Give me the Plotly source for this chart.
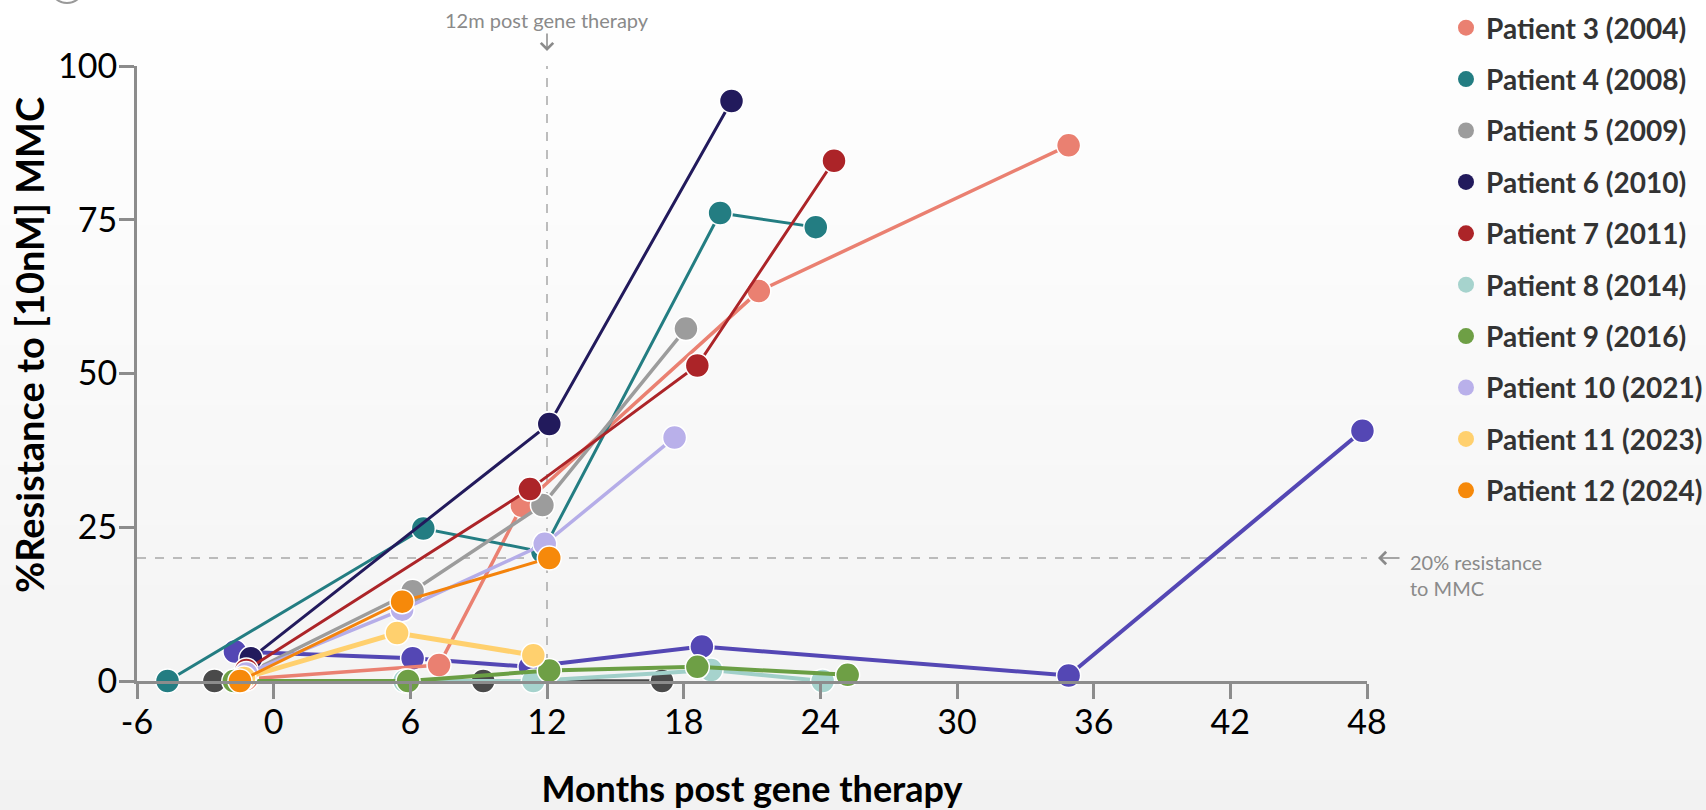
import plotly.graph_objects as go

# ---------------- data ----------------
names = ["Patient 1", "Patient 2",
         "Patient 3 (2004)", "Patient 4 (2008)", "Patient 5 (2009)", "Patient 6 (2010)",
         "Patient 7 (2011)", "Patient 8 (2014)", "Patient 9 (2016)", "Patient 10 (2021)",
         "Patient 11 (2023)", "Patient 12 (2024)"]
in_legend = [False, False, True, True, True, True, True, True, True, True, True, True]

months_p1 = [-1.7, 6.1, 11.25, 18.8, 34.9, 47.8]
res_p1 = [4.8, 3.7, 2.3, 5.6, 0.9, 40.7]
months_p2 = [-2.6, 9.2, 17.05]
res_p2 = [0, 0, 0]
months_p3 = [-1.2, 7.26, 10.9, 21.3, 34.9]
res_p3 = [0.3, 2.6, 28.5, 63.4, 87.1]
months_p4 = [-4.66, 6.57, 11.8, 19.6, 23.8]
res_p4 = [0, 24.8, 21.0, 76.1, 73.8]
months_p5 = [-1.3, 6.1, 11.8, 18.1]
res_p5 = [1.0, 14.6, 28.6, 57.3]
months_p6 = [-1.0, 12.1, 20.1]
res_p6 = [3.7, 41.8, 94.3]
months_p7 = [-1.2, 11.25, 18.6, 24.6]
res_p7 = [1.8, 31.2, 51.3, 84.6]
months_p8 = [-1.5, 5.75, 11.4, 19.2, 24.1]
res_p8 = [0, 0, 0, 1.8, 0]
months_p9 = [-1.75, 5.9, 12.1, 18.6, 25.2]
res_p9 = [0, 0, 1.7, 2.3, 1.0]
months_p10 = [-1.2, 5.64, 11.9, 17.6]
res_p10 = [1.2, 11.6, 22.3, 39.6]
months_p11 = [-1.3, 5.42, 11.4]
res_p11 = [0.5, 7.8, 4.2]
months_p12 = [-1.48, 5.64, 12.1]
res_p12 = [0, 12.9, 20.0]

all_months = [months_p1, months_p2, months_p3, months_p4, months_p5, months_p6,
              months_p7, months_p8, months_p9, months_p10, months_p11, months_p12]
all_res = [res_p1, res_p2, res_p3, res_p4, res_p5, res_p6,
           res_p7, res_p8, res_p9, res_p10, res_p11, res_p12]

marker_colors = ["#5447B4", "#4A4A4A", "#EA8071", "#237D82", "#9C9C9C", "#221A5C",
                 "#AC2428", "#A6D3CD", "#6E9F45", "#B9B0EA", "#FFD06E", "#F6890A"]
line_colors = ["#5447B4", "#4A4A4A", "#EA8071", "#237D82", "#9C9C9C", "#221A5C",
               "#AC2428", "#A0CFC9", "#6A9E44", "#B5ADE8", "#FFD06E", "#F4830C"]
line_widths = [4, 3.5, 3.5, 3, 3.5, 3, 3, 4, 4, 3.5, 5, 3]

x_ticks = [-6, 0, 6, 12, 18, 24, 30, 36, 42, 48]
y_ticks = [0, 25, 50, 75, 100]

# ---------------- geometry helpers (pixels -> paper) ----------------
W, H = 1706, 810
ML, MR, MT, MB = 137, 339, 66, 129
PW, PH = W - ML - MR, H - MT - MB


def px(xpix):
    return (xpix - ML) / PW


def py(ypix):
    return (H - MB - ypix) / PH


fig = go.Figure()

# data traces (lines + markers)
for nm, xs, ys, mc, lc, lw in zip(names, all_months, all_res,
                                  marker_colors, line_colors, line_widths):
    fig.add_trace(go.Scatter(
        x=xs, y=ys, name=nm, mode="lines+markers", showlegend=False,
        legendgroup=nm, cliponaxis=False,
        line=dict(color=lc, width=lw),
        marker=dict(color=mc, size=24, line=dict(color="white", width=1.5)),
    ))

# legend entries (marker-only symbols, as in the reference legend)
for nm, show, mc in zip(names, in_legend, marker_colors):
    if show:
        fig.add_trace(go.Scatter(
            x=[None], y=[None], name=nm, mode="markers", showlegend=True,
            legendgroup=nm, marker=dict(color=mc, size=26),
        ))

# background gradient (white top -> light grey bottom)
shapes = []
nb = 54
for i in range(nb):
    y0p, y1p = i * H / nb, (i + 1) * H / nb
    v = round(255 - 13 * (i + 0.5) / nb)
    shapes.append(dict(type="rect", xref="paper", yref="paper", layer="below",
                       x0=px(0), x1=px(W), y0=py(y1p + 0.5), y1=py(y0p),
                       line=dict(width=0), fillcolor=f"rgb({v},{v},{v})"))
# reference lines
shapes.append(dict(type="line", xref="x", yref="y", layer="below", x0=12, x1=12, y0=0, y1=100.5,
                   line=dict(color="#A8A8A8", width=1.5, dash="dash")))
shapes.append(dict(type="line", xref="x", yref="y", layer="below", x0=-6, x1=48, y0=20, y1=20,
                   line=dict(color="#A8A8A8", width=1.5, dash="dash")))
# partial panel marker at the very top-left
shapes.append(dict(type="circle", xref="paper", yref="paper", layer="above",
                   x0=px(50), x1=px(84), y0=py(3), y1=py(-31),
                   line=dict(color="#999999", width=2)))

annotations = [
    dict(text="12m post gene therapy", x=12, xref="x", y=py(51), yref="paper",
         showarrow=True, ax=0, ay=-31, arrowhead=4, arrowsize=1.6, arrowwidth=1.5,
         arrowcolor="#8A8A8A", font=dict(family="Lato", size=20, color="#8A8A8A")),
    dict(text="", x=px(1378), xref="paper", y=20, yref="y",
         showarrow=True, ax=23, ay=0, arrowhead=4, arrowsize=1.6, arrowwidth=1.5,
         arrowcolor="#8A8A8A"),
    dict(text="20% resistance<br>to MMC", x=px(1408), xref="paper", y=py(548), yref="paper",
         xanchor="left", yanchor="top", align="left", showarrow=False,
         font=dict(family="Lato", size=20, color="#8A8A8A")),
    dict(text="%Resistance to [10nM] MMC", x=px(29), xref="paper", y=py(345), yref="paper",
         textangle=-90, xanchor="center", yanchor="middle", showarrow=False,
         font=dict(family="Lato", size=38, color="black", weight="bold")),
]

fig.update_layout(
    template="none",
    width=W, height=H,
    margin=dict(l=ML, r=MR, t=MT, b=MB, autoexpand=False),
    paper_bgcolor="#F4F4F4", plot_bgcolor="rgba(0,0,0,0)",
    shapes=shapes, annotations=annotations,
    font=dict(family="Lato", color="black"),
    legend=dict(x=px(1446), y=py(3), xanchor="left", yanchor="top",
                font=dict(family="Lato", size=28, color="#333333", weight="bold"),
                tracegroupgap=12, bgcolor="rgba(0,0,0,0)", itemsizing="trace",
                maxheight=1.0),
    xaxis=dict(range=[-6, 48], tickvals=x_ticks, ticktext=[str(t) for t in x_ticks],
               automargin=False,
               showgrid=False, zeroline=False, showline=True, linecolor="#8C8C8C", linewidth=3,
               ticks="outside", ticklen=15, tickwidth=3, tickcolor="#8C8C8C",
               tickfont=dict(family="Lato", size=34, color="black"), ticklabelstandoff=-6,
               title=dict(text="Months post gene therapy", standoff=56,
                          font=dict(family="Lato", size=36, color="black", weight="bold"))),
    yaxis=dict(range=[0, 100], tickvals=y_ticks, ticktext=[str(t) for t in y_ticks],
               automargin=False,
               showgrid=False, zeroline=False, showline=True, linecolor="#8C8C8C", linewidth=3,
               ticks="outside", ticklen=15, tickwidth=3, tickcolor="#8C8C8C",
               tickfont=dict(family="Lato", size=34, color="black"), ticklabelstandoff=-5),
)

fig.write_html("out.html", config={"displayModeBar": False},
               post_script="document.body.style.margin='0';document.body.style.overflow='hidden';")
